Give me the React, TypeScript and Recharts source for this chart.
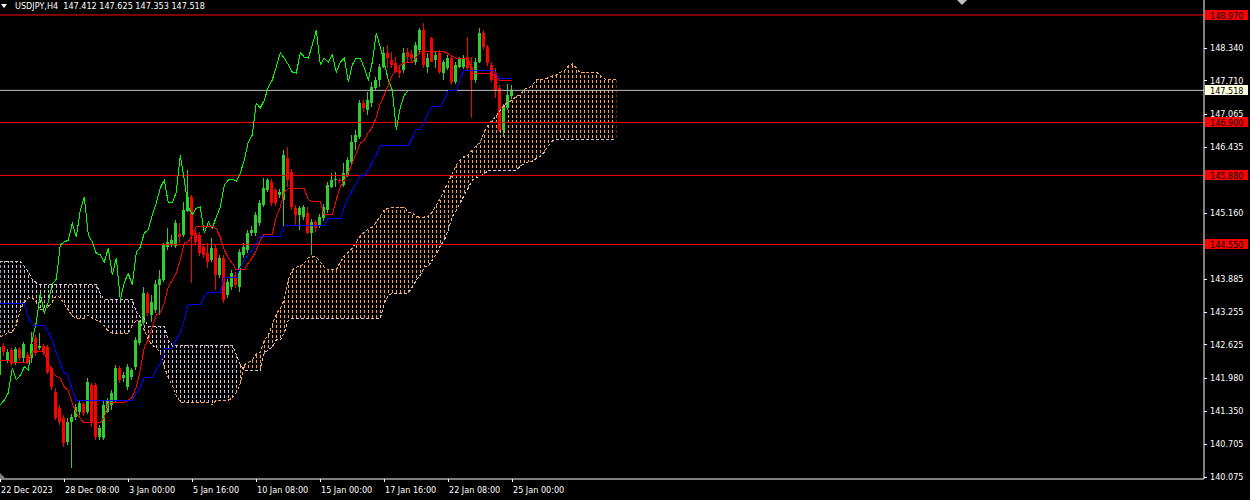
import React from 'react';
import { ComposedChart, Area, Bar, Line, XAxis, YAxis, ReferenceLine } from 'recharts';

const FONT = "'DejaVu Sans Condensed', 'DejaVu Sans', sans-serif";
const FG = '#ffffff';
const BULL = '#32cd32';
const BEAR = '#ff0000';
const SANDY = '#f4a460';
const THISTLE = '#d8bfd8';

const symbol = 'USDJPY,H4';

// time axis: one label every 16 H4 bars
const timeTickBars = [0, 16, 32, 48, 64, 80, 96, 112, 128];
const timeLabels = [
  '22 Dec 2023', '28 Dec 08:00', '3 Jan 00:00', '5 Jan 16:00', '10 Jan 08:00',
  '15 Jan 00:00', '17 Jan 16:00', '22 Jan 08:00', '25 Jan 00:00',
];

const priceTicks = [
  148.34, 147.71, 147.065, 146.435, 145.16, 143.885, 143.255,
  142.625, 141.98, 141.35, 140.705, 140.075,
];

const levels = [148.97, 146.9, 145.88, 144.55];
const bid = 147.518;

const opens = [
  142.03, 142.59, 142.32, 142.51, 142.26, 142.53, 142.36, 142.42, 142.36, 142.75,
  142.55, 142.59, 142.57, 142.17, 141.71, 141.40, 141.20, 140.74, 141.13, 141.22,
  141.32, 141.47, 141.32, 141.84, 141.84, 140.84, 140.82, 141.32, 141.46, 141.55,
  142.17, 141.97, 141.80, 142.00, 142.19, 142.65, 143.03, 143.59, 143.19, 143.29,
  143.77, 143.86, 144.50, 144.54, 144.52, 144.75, 144.73, 145.19, 145.46, 144.77,
  144.73, 144.50, 144.38, 144.25, 144.48, 143.96, 144.29, 143.57, 143.73, 143.96,
  143.73, 144.35, 144.44, 144.77, 144.77, 144.96, 145.31, 145.60, 145.75, 145.60,
  145.50, 145.41, 146.21, 145.94, 145.25, 145.12, 145.08, 145.15, 144.77, 144.98,
  144.92, 145.06, 145.21, 145.66, 145.79, 145.79, 145.69, 145.89, 146.14, 146.52,
  146.62, 147.27, 147.14, 147.27, 147.56, 147.72, 147.97, 148.24, 148.10, 148.04,
  147.91, 147.91, 148.26, 148.22, 148.06, 148.30, 148.68, 147.97, 148.53, 148.10,
  148.24, 147.85, 147.95, 148.14, 147.68, 147.97, 147.97, 148.16, 147.97, 147.72,
  148.06, 148.62, 148.35, 148.01, 147.85, 147.56, 146.75, 147.18, 147.412,
];
const highs = [
  142.61, 142.65, 142.53, 142.55, 142.57, 142.57, 142.67, 142.48, 142.86, 142.80,
  142.84, 142.63, 142.61, 142.21, 141.78, 141.46, 141.26, 141.20, 141.28, 141.47,
  141.55, 141.51, 141.98, 141.88, 141.88, 141.07, 141.55, 141.59, 141.74, 142.23,
  142.21, 142.09, 142.25, 142.17, 142.77, 143.09, 143.73, 143.63, 143.57, 143.86,
  144.06, 144.58, 144.86, 144.73, 145.02, 144.96, 145.37, 145.98, 145.50, 144.83,
  144.79, 144.56, 144.58, 144.67, 144.54, 144.35, 144.35, 143.88, 144.06, 144.02,
  144.46, 144.58, 144.83, 144.90, 145.17, 145.41, 145.83, 145.83, 145.81, 145.64,
  145.62, 146.37, 146.43, 146.00, 145.31, 145.29, 145.31, 145.27, 145.04, 145.02,
  145.14, 145.33, 145.75, 145.92, 145.94, 145.83, 146.12, 146.23, 146.66, 146.75,
  147.33, 147.33, 147.49, 147.68, 147.77, 148.03, 148.35, 148.39, 148.26, 148.16,
  148.01, 148.33, 148.33, 148.30, 148.45, 148.72, 148.81, 148.24, 148.55, 148.26,
  148.30, 148.10, 148.20, 148.20, 148.06, 148.16, 148.20, 148.55, 148.16, 148.14,
  148.72, 148.68, 148.39, 148.06, 147.95, 147.62, 147.25, 147.64, 147.625,
];
const lows = [
  141.98, 142.40, 142.26, 142.21, 142.23, 142.30, 142.28, 142.24, 142.26, 142.40,
  142.51, 142.42, 142.05, 141.74, 141.17, 141.07, 140.65, 140.68, 140.24, 141.17,
  141.26, 141.24, 141.28, 141.03, 140.78, 140.78, 140.78, 141.30, 141.36, 141.49,
  141.88, 141.90, 141.74, 141.94, 142.13, 142.61, 142.99, 143.17, 143.05, 143.23,
  143.19, 143.82, 144.44, 144.50, 144.48, 144.58, 144.69, 145.17, 143.81, 144.54,
  144.33, 144.29, 144.09, 144.21, 143.67, 143.90, 143.42, 143.52, 143.67, 143.71,
  143.63, 144.29, 144.38, 144.71, 144.71, 144.90, 145.27, 145.56, 145.29, 145.29,
  145.44, 144.88, 145.66, 145.21, 144.92, 144.83, 145.02, 144.75, 144.35, 144.79,
  144.86, 145.00, 145.15, 145.64, 145.66, 145.73, 145.66, 145.85, 146.08, 146.37,
  146.58, 147.10, 147.04, 147.20, 147.52, 147.58, 147.95, 147.95, 147.95, 147.85,
  147.76, 147.85, 148.06, 148.06, 148.01, 148.26, 147.95, 147.85, 148.06, 147.95,
  147.83, 147.72, 147.91, 147.62, 147.64, 147.95, 147.93, 147.91, 146.98, 147.66,
  148.04, 148.30, 147.99, 147.68, 147.37, 146.72, 146.62, 147.14, 147.353,
];
const closes = [
  142.57, 142.48, 142.48, 142.24, 142.53, 142.36, 142.63, 142.28, 142.63, 142.46,
  142.59, 142.48, 142.09, 141.80, 141.20, 141.13, 140.72, 141.13, 141.22, 141.42,
  141.49, 141.30, 141.90, 141.11, 140.84, 141.01, 141.46, 141.55, 141.69, 142.17,
  141.94, 142.03, 142.19, 142.13, 142.71, 143.05, 143.61, 143.23, 143.44, 143.79,
  143.88, 144.54, 144.60, 144.63, 144.96, 144.69, 145.21, 145.46, 144.73, 144.60,
  144.38, 144.35, 144.21, 144.48, 143.96, 144.29, 143.48, 143.82, 143.99, 143.77,
  144.40, 144.50, 144.77, 144.83, 145.12, 145.35, 145.64, 145.79, 145.35, 145.35,
  145.56, 146.27, 145.79, 145.27, 145.12, 145.25, 145.27, 144.77, 144.98, 144.86,
  145.08, 145.27, 145.69, 145.79, 145.81, 145.77, 145.92, 146.18, 146.52, 146.66,
  147.27, 147.18, 147.33, 147.58, 147.72, 147.97, 148.24, 148.14, 148.01, 147.87,
  147.85, 148.24, 148.16, 148.14, 148.39, 148.68, 148.01, 148.14, 148.06, 148.20,
  147.87, 148.06, 148.14, 147.68, 148.01, 148.14, 148.14, 147.95, 147.72, 148.06,
  148.62, 148.35, 148.04, 147.72, 147.52, 146.75, 147.20, 147.42, 147.518,
];

// Ichimoku
const tenkan = [
  142.32, 142.32, 142.32, 142.28, 142.28, 142.28, 142.28, 142.28, 142.48, 142.48,
  142.48, 142.48, 142.26, 142.09, 142.01, 141.97, 141.80, 141.74, 141.49, 141.30,
  141.20, 141.11, 141.11, 141.11, 141.11, 141.11, 141.22, 141.49, 141.51, 141.51,
  141.51, 141.51, 141.55, 141.61, 141.80, 142.13, 142.57, 142.71, 142.96, 143.19,
  143.23, 143.42, 143.73, 143.86, 144.00, 144.25, 144.58, 144.60, 144.73, 144.90,
  144.90, 144.90, 144.90, 144.90, 144.85, 144.69, 144.44, 144.29, 144.19, 144.06,
  144.06, 144.06, 144.19, 144.29, 144.44, 144.63, 144.75, 144.75, 144.75, 145.08,
  145.27, 145.56, 145.62, 145.62, 145.62, 145.62, 145.62, 145.41, 145.37, 145.37,
  145.37, 145.12, 145.12, 145.12, 145.41, 145.66, 145.79, 145.93, 146.12, 146.31,
  146.50, 146.56, 146.70, 146.81, 147.00, 147.27, 147.43, 147.62, 147.81, 147.91,
  147.99, 148.06, 148.06, 148.06, 148.16, 148.26, 148.26, 148.26, 148.26, 148.26,
  148.26, 148.26, 148.22, 148.18, 148.14, 148.14, 148.14, 148.14, 147.85, 147.85,
  147.85, 147.85, 147.85, 147.85, 147.76, 147.70, 147.70, 147.70, 147.70,
];
const kijun = [
  143.42, 143.42, 143.42, 143.42, 143.42, 143.42, 143.42, 143.15, 143.00, 142.98,
  142.98, 142.98, 142.86, 142.71, 142.46, 142.26, 142.07, 142.03, 141.74, 141.55,
  141.55, 141.55, 141.55, 141.55, 141.55, 141.55, 141.55, 141.55, 141.55, 141.55,
  141.55, 141.55, 141.55, 141.55, 141.69, 141.80, 141.99, 141.99, 141.99, 142.13,
  142.26, 142.55, 142.55, 142.55, 142.71, 142.86, 143.09, 143.40, 143.40, 143.40,
  143.40, 143.54, 143.63, 143.63, 143.63, 143.63, 143.92, 143.92, 143.92, 143.92,
  144.11, 144.25, 144.35, 144.44, 144.58, 144.71, 144.71, 144.71, 144.71, 144.71,
  144.71, 144.92, 144.92, 144.92, 144.92, 144.92, 144.92, 144.92, 144.92, 144.92,
  144.92, 144.92, 145.04, 145.04, 145.04, 145.04, 145.27, 145.44, 145.60, 145.73,
  145.87, 145.87, 145.98, 146.14, 146.27, 146.45, 146.45, 146.45, 146.45, 146.45,
  146.45, 146.45, 146.45, 146.60, 146.77, 146.77, 146.91, 147.10, 147.20, 147.20,
  147.20, 147.33, 147.52, 147.52, 147.52, 147.76, 147.91, 147.91, 147.91, 147.91,
  147.91, 147.91, 147.91, 147.91, 147.83, 147.74, 147.74, 147.74, 147.74,
];
// senkou spans, already drawn 26 bars ahead
const spanA = [
  142.77, 142.80, 142.86, 142.86, 143.00, 143.29, 143.44, 143.52, 143.52, 143.44,
  143.29, 143.31, 143.34, 143.44, 143.57, 143.52, 143.40, 143.29, 143.17, 143.13,
  143.13, 143.13, 143.19, 143.13, 143.09, 143.05, 142.98, 142.88, 142.84, 142.84,
  142.84, 142.84, 142.84, 143.00, 143.09, 143.05, 142.90, 142.71, 142.61, 142.55,
  142.46, 142.19, 141.98, 141.84, 141.63, 141.51, 141.51, 141.51, 141.51, 141.51,
  141.51, 141.51, 141.51, 141.46, 141.55, 141.55, 141.55, 141.55, 141.59, 141.69,
  141.88, 142.23, 142.28, 142.32, 142.44, 142.48, 142.71, 142.80, 143.00, 143.21,
  143.32, 143.48, 143.86, 144.06, 144.11, 144.13, 144.19, 144.29, 144.31, 144.31,
  144.21, 144.11, 144.06, 144.06, 144.06, 144.21, 144.33, 144.40, 144.48, 144.60,
  144.71, 144.79, 144.85, 144.88, 144.98, 145.10, 145.21, 145.25, 145.27, 145.27,
  145.27, 145.27, 145.17, 145.15, 145.10, 145.06, 145.08, 145.10, 145.17, 145.31,
  145.44, 145.60, 145.75, 145.91, 146.08, 146.18, 146.25, 146.27, 146.37, 146.45,
  146.52, 146.72, 146.85, 146.95, 147.02, 147.14, 147.24, 147.29, 147.33, 147.41,
  147.43, 147.54, 147.56, 147.62, 147.72, 147.72, 147.74, 147.76, 147.80, 147.81,
  147.87, 147.89, 147.99, 148.03, 147.95, 147.85, 147.87, 147.87, 147.87, 147.87,
  147.81, 147.74, 147.72, 147.72, 147.72,
];
const spanB = [
  144.23, 144.23, 144.23, 144.23, 144.23, 144.23, 144.13, 144.02, 143.88, 143.81,
  143.77, 143.77, 143.77, 143.77, 143.77, 143.77, 143.77, 143.77, 143.77, 143.77,
  143.77, 143.77, 143.77, 143.77, 143.77, 143.61, 143.48, 143.48, 143.48, 143.48,
  143.48, 143.48, 143.48, 143.48, 143.25, 143.15, 143.13, 142.96, 142.96, 142.96,
  142.96, 142.96, 142.71, 142.61, 142.61, 142.61, 142.61, 142.61, 142.61, 142.61,
  142.61, 142.61, 142.61, 142.61, 142.61, 142.61, 142.61, 142.61, 142.61, 142.42,
  142.23, 142.13, 142.13, 142.13, 142.13, 142.13, 142.46, 142.52, 142.57, 142.71,
  142.71, 142.84, 143.09, 143.13, 143.13, 143.13, 143.13, 143.13, 143.13, 143.13,
  143.13, 143.13, 143.13, 143.13, 143.13, 143.13, 143.13, 143.13, 143.13, 143.13,
  143.13, 143.13, 143.13, 143.13, 143.13, 143.13, 143.42, 143.57, 143.61, 143.61,
  143.61, 143.61, 143.61, 143.73, 143.86, 143.96, 144.11, 144.13, 144.25, 144.36,
  144.52, 144.63, 144.83, 145.08, 145.21, 145.35, 145.50, 145.64, 145.79, 145.83,
  145.87, 145.91, 145.98, 145.98, 145.98, 145.98, 145.98, 145.98, 145.98, 145.98,
  146.06, 146.10, 146.14, 146.14, 146.21, 146.25, 146.33, 146.45, 146.54, 146.58,
  146.58, 146.58, 146.58, 146.58, 146.58, 146.58, 146.58, 146.58, 146.58, 146.58,
  146.58, 146.58, 146.58, 146.58, 146.58,
];
const chikouShift = 26;

const rows = spanA.map((a, i) => {
  const b = spanB[i];
  const has = i < opens.length;
  const lag = closes[i + chikouShift];
  // a bar belongs to the sandy cloud when A is over B; neighbours at a cross belong to both
  const upHere = a >= b;
  const upNear = upHere || (i > 0 && spanA[i - 1] >= spanB[i - 1]) || (i + 1 < spanA.length && spanA[i + 1] >= spanB[i + 1]);
  const downNear = !upHere || (i > 0 && spanA[i - 1] < spanB[i - 1]) || (i + 1 < spanA.length && spanA[i + 1] < spanB[i + 1]);
  return {
    i,
    o: has ? opens[i] : null,
    h: has ? highs[i] : null,
    l: has ? lows[i] : null,
    c: has ? closes[i] : null,
    range: has ? [lows[i], highs[i]] : null,
    a,
    b,
    up: upNear ? [Math.min(a, b), Math.max(a, b)] : null,
    down: downNear ? [Math.min(a, b), Math.max(a, b)] : null,
    tenkan: i < tenkan.length ? tenkan[i] : null,
    kijun: i < kijun.length ? kijun[i] : null,
    chikou: lag === undefined ? null : lag,
  };
});

const last = opens.length - 1;

const Candle = (p: any) => {
  const { x, y, width, height, index } = p;
  const row = rows[index];
  if (!row || row.o == null || !(height >= 0)) return null;
  const { o, h, l, c } = row;
  const per = h - l > 0 ? height / (h - l) : 0;
  const cx = Math.floor(x + width / 2);
  const top = y + (h - Math.max(o, c)) * per;
  const bh = Math.max(1, Math.abs(o - c) * per);
  const col = c >= o ? BULL : BEAR;
  return (
    <g shapeRendering="crispEdges">
      <rect x={cx} y={y} width={1} height={Math.max(1, height)} fill={col} />
      <rect x={cx - 1} y={top} width={3} height={bh} fill={col} />
    </g>
  );
};

const TimeTick = (p: any) => {
  const { x, y, payload } = p;
  const k = timeTickBars.indexOf(payload.value);
  const px = Math.floor(x) + 0.5;
  return (
    <g>
      <line x1={px} x2={px} y1={y} y2={y + 3} stroke={FG} shapeRendering="crispEdges" />
      <text x={x + 0.7} y={y + 13.5} fill={FG} fontSize={9} fontFamily={FONT} textAnchor="start">
        {k >= 0 ? timeLabels[k] : ''}
      </text>
    </g>
  );
};

const PriceTick = (p: any) => {
  const { x, y, payload } = p;
  const yy = Math.round(y) + 0.5;
  return (
    <g>
      <line x1={x} x2={x + 3} y1={yy} y2={yy} stroke={FG} shapeRendering="crispEdges" />
      <text x={x + 6} y={y + 3.2} fill={FG} fontSize={9} fontFamily={FONT}>
        {Number(payload.value).toFixed(3)}
      </text>
    </g>
  );
};

const PriceTag = (p: any) => {
  const { viewBox, price, bg } = p;
  if (!viewBox) return null;
  const x = viewBox.x + viewBox.width;
  const y = Math.round(viewBox.y);
  return (
    <g>
      <rect x={x + 1} y={y - 5} width={43} height={10} fill={bg} shapeRendering="crispEdges" />
      <text x={x + 6} y={y + 3.5} fill="#000000" fontSize={9} fontFamily={FONT}>
        {price.toFixed(3)}
      </text>
    </g>
  );
};

const X_DOMAIN: [number, number] = [-0.075, 300.925];
const lineProps = {
  xAxisId: 't',
  strokeWidth: 1,
  dot: false,
  activeDot: false,
  isAnimationActive: false,
  shapeRendering: 'crispEdges',
} as any;

export default function App() {
  const title = `${symbol}  ${opens[last].toFixed(3)} ${highs[last].toFixed(3)} ${lows[last].toFixed(3)} ${closes[last].toFixed(3)}`;
  return (
    <div style={{ position: 'absolute', left: 0, top: 0, width: 1250, height: 500, background: '#000', overflow: 'hidden' }}>
      <ComposedChart width={1250} height={500} data={rows} margin={{ top: 0, right: 0, left: 0, bottom: 0 }}>
        <defs>
          {/* one dotted column per bar, dots aligned in rows like the terminal's histogram */}
          <pattern id="hatchUp" patternUnits="userSpaceOnUse" x={0} y={0} width={4} height={5}>
            <rect x={0} y={0} width={1} height={3} fill={SANDY} />
          </pattern>
          <pattern id="hatchDown" patternUnits="userSpaceOnUse" x={0} y={0} width={4} height={5}>
            <rect x={0} y={0} width={1} height={3} fill={THISTLE} />
          </pattern>
        </defs>
        <XAxis
          xAxisId="t" dataKey="i" type="number" domain={X_DOMAIN} ticks={timeTickBars}
          interval={0} allowDataOverflow height={21} axisLine={{ stroke: FG }} tickLine={false}
          tickSize={0} tickMargin={0} tick={<TimeTick />}
        />
        <YAxis
          orientation="right" type="number" domain={[140.031, 149.259]} ticks={priceTicks}
          interval={0} width={46} allowDataOverflow axisLine={{ stroke: FG }} tickLine={false}
          tickSize={0} tickMargin={0} tick={<PriceTick />}
        />

        <Area xAxisId="t" type="linear" dataKey="down" stroke="none" fill="url(#hatchDown)" fillOpacity={1} dot={false} activeDot={false} isAnimationActive={false} />
        <Area xAxisId="t" type="linear" dataKey="up" stroke="none" fill="url(#hatchUp)" fillOpacity={1} dot={false} activeDot={false} isAnimationActive={false} />
        <Line {...lineProps} dataKey="a" stroke={SANDY} strokeDasharray="3 2" />
        <Line {...lineProps} dataKey="b" stroke={THISTLE} strokeDasharray="3 2" />

        {levels.map((v) => (
          <ReferenceLine key={v} xAxisId="t" y={v} stroke="#ff0000" strokeWidth={1}
            label={<PriceTag price={v} bg="#ff0000" />} />
        ))}
        <ReferenceLine xAxisId="t" y={bid} stroke="#c0c0c0" strokeWidth={1}
          label={<PriceTag price={bid} bg="#ffffe0" />} />

        <Bar xAxisId="t" dataKey="range" barSize={3} shape={<Candle />} isAnimationActive={false} />
        <Line {...lineProps} dataKey="chikou" stroke="#00ff00" />
        <Line {...lineProps} dataKey="tenkan" stroke="#ff0000" />
        <Line {...lineProps} dataKey="kijun" stroke="#0000ff" />
      </ComposedChart>

      <svg width={1250} height={500} style={{ position: 'absolute', left: 0, top: 0, pointerEvents: 'none' }}>
        <polygon points="1,4 7,4 4,8" fill={FG} />
        <polygon points="957,0 967,0 962,5" fill="#c0c0c0" />
        <polygon points="0,473 0,479 6,479" fill="#808080" />
      </svg>
      <div style={{ position: 'absolute', left: 15, top: 0, color: FG, fontFamily: FONT, fontSize: 9, lineHeight: '12px', whiteSpace: 'pre' }}>
        {title}
      </div>
    </div>
  );
}
